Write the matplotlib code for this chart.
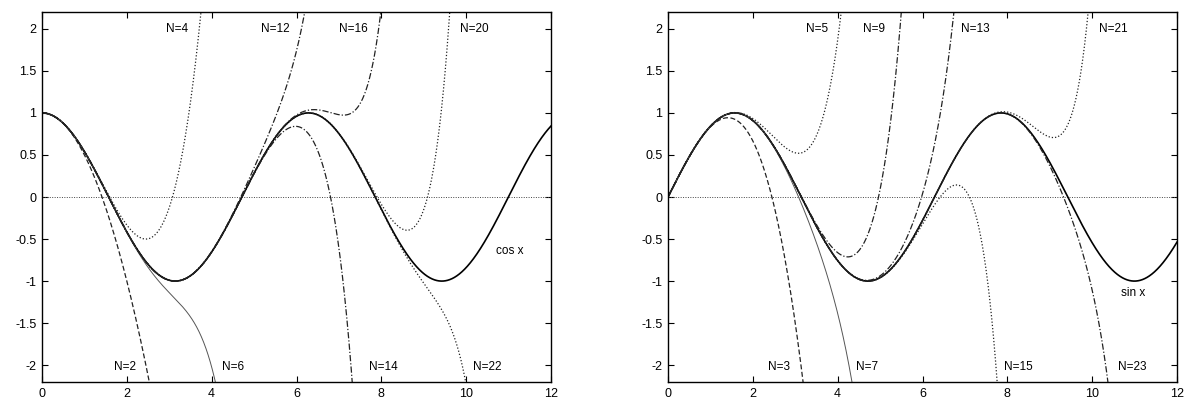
import math
import numpy as np
import matplotlib
matplotlib.use("Agg")
import matplotlib.pyplot as plt

plt.rcParams['font.family'] = ['Liberation Sans', 'DejaVu Sans']

# Orders of the Taylor polynomials shown in each panel
cos_orders = [2, 4, 6, 12, 14, 16, 20, 22]
sin_orders = [3, 5, 7, 9, 13, 15, 21, 23]

# Label positions (x, y) for each polynomial
cos_label_pos = [(1.96, -2.02), (3.18, 2.0), (4.5, -2.02), (5.49, 2.0),
                 (8.04, -2.02), (7.33, 2.0), (10.2, 2.0), (10.5, -2.02)]
sin_label_pos = [(2.62, -2.02), (3.51, 2.0), (4.69, -2.02), (4.85, 2.0),
                 (7.24, 2.0), (8.25, -2.02), (10.5, 2.0), (10.94, -2.02)]

x_ticks = [0, 2, 4, 6, 8, 10, 12]
y_ticks = [-2, -1.5, -1, -0.5, 0, 0.5, 1, 1.5, 2]
y_tick_labels = ['-2', '-1.5', '-1', '-0.5', '0', '0.5', '1', '1.5', '2']

dashed = (0, (4, 2))
dotted = (0, (1, 1.6))
dashdot = (0, (5, 1.6, 1, 1.6))
thin = '-'
cos_styles = [dashed, dotted, thin, dashdot, dashdot, dashdot, dotted, dotted]
sin_styles = [dashed, dotted, thin, dashdot, dashdot, dotted, dotted, dashdot]

x = np.linspace(0, 12, 2400)


def taylor(x, order, odd):
    total = np.zeros_like(x)
    start = 1 if odd else 0
    for k, p in enumerate(range(start, order + 1, 2)):
        total += (-1) ** k * x ** p / math.factorial(p)
    return total


fig = plt.figure(figsize=(11.95, 4.05), dpi=100)
ax1 = fig.add_axes([42 / 1195, 23 / 405, 509 / 1195, 370 / 405])
ax2 = fig.add_axes([668 / 1195, 23 / 405, 509 / 1195, 370 / 405])


def draw(ax, orders, styles, label_pos, odd, func, func_label, func_pos):
    ax.axhline(0, color='#444444', lw=0.7, ls=(0, (1, 1.5)))
    ax.plot(x, func(x), color='black', lw=1.2)
    for n, st, (lx, ly) in zip(orders, styles, label_pos):
        col = '#555555' if st == thin else '#222222'
        lw = 0.7 if st == thin else 0.9
        ax.plot(x, taylor(x, n, odd), color=col, lw=lw, ls=st)
        ax.text(lx, ly, f'N={n}', ha='center', va='center', fontsize=8.5)
    ax.text(func_pos[0], func_pos[1], func_label, ha='center', va='center',
            fontsize=8.5)
    ax.set_xlim(0, 12)
    ax.set_ylim(-2.2, 2.2)
    ax.set_xticks(x_ticks)
    ax.set_yticks(y_ticks)
    ax.set_yticklabels(y_tick_labels)
    ax.tick_params(direction='in', length=4, width=0.8, top=True, right=True,
                   labelsize=9, pad=4)
    for s in ax.spines.values():
        s.set_linewidth(1.0)


draw(ax1, cos_orders, cos_styles, cos_label_pos, False, np.cos, 'cos x',
     (11.03, -0.64))
draw(ax2, sin_orders, sin_styles, sin_label_pos, True, np.sin, 'sin x',
     (10.96, -1.14))

fig.savefig('out.png', dpi=100)
